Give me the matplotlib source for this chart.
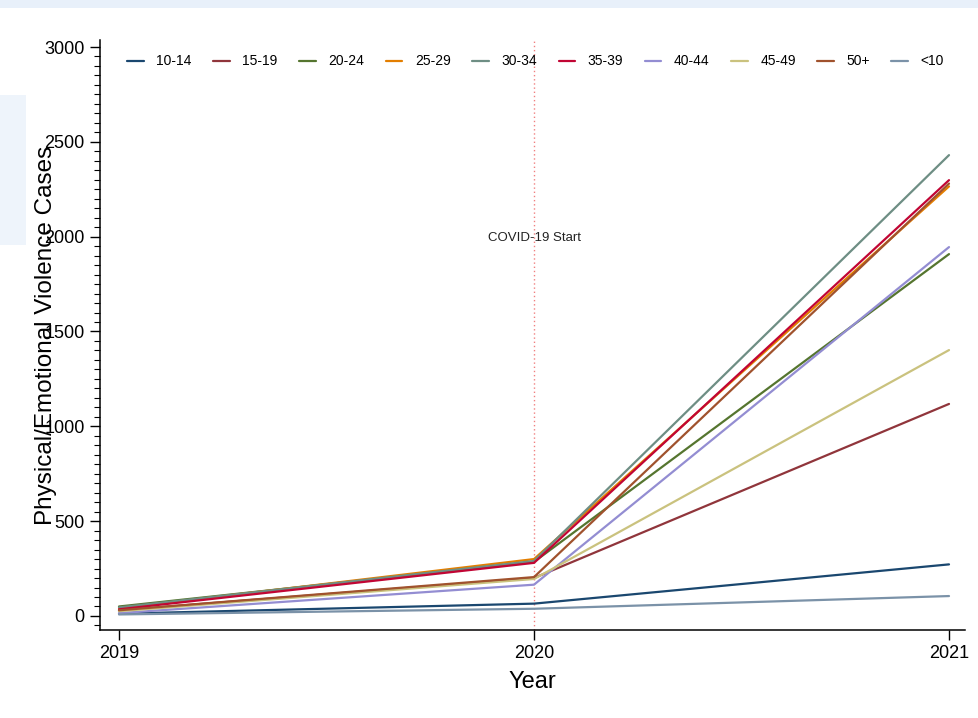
import matplotlib
matplotlib.use("Agg")
import matplotlib.pyplot as plt
from matplotlib.patches import Rectangle
from matplotlib.ticker import MultipleLocator

plt.rcParams['font.family'] = ['Liberation Sans', 'DejaVu Sans']

years = [2019, 2020, 2021]
groups = ['10-14', '15-19', '20-24', '25-29', '30-34', '35-39', '40-44', '45-49', '50+', '<10']
values = {
    '10-14': [12, 65, 272],
    '15-19': [30, 200, 1118],
    '20-24': [50, 285, 1908],
    '25-29': [40, 300, 2265],
    '30-34': [45, 290, 2430],
    '35-39': [35, 280, 2298],
    '40-44': [15, 165, 1945],
    '45-49': [25, 195, 1402],
    '50+':   [30, 205, 2280],
    '<10':   [8, 38, 105],
}
colors = ['#1a476f', '#90353b', '#55752f', '#e37e00', '#6e8e84',
          '#c10534', '#938dd2', '#cac27e', '#a0522d', '#7b92a8']

W, H = 979, 718
fig = plt.figure(figsize=(W / 100, H / 100), dpi=100)
fig.patch.set_facecolor('#e8f0fa')
fig.patches.append(Rectangle((0, 0), 1, 1 - 8 / H, transform=fig.transFigure,
                             facecolor='white', edgecolor='none', zorder=-10))
fig.patches.append(Rectangle((0, 1 - 245 / H), 26 / W, 150 / H, transform=fig.transFigure,
                             facecolor='#eef4fb', edgecolor='none', zorder=-9))

ax = fig.add_axes([100 / W, (H - 630) / H, (965 - 100) / W, (630 - 40) / H])
ax.set_facecolor('none')

for g, c in zip(groups, colors):
    ax.plot(years, values[g], color=c, lw=1.6, label=g, solid_capstyle='round', solid_joinstyle='round')

ax.axvline(2020, color='#f08080', lw=1.0, ls=(0, (1, 2)), zorder=0)
ax.text(2020, 1993, 'COVID-19 Start', ha='center', va='center', fontsize=9.5, color='#222222')

ax.set_xlim(2019 - 19 / 415, 2021 + 16 / 415)
ax.set_ylim(-74, 3037)
ax.set_xticks(years)
ax.set_xticklabels([str(y) for y in years])
ax.set_yticks([0, 500, 1000, 1500, 2000, 2500, 3000])
ax.yaxis.set_minor_locator(MultipleLocator(50))
ax.tick_params(axis='both', which='major', labelsize=13, length=7, width=1, color='black', pad=4)
ax.tick_params(axis='y', which='minor', length=4, width=0.8)
ax.spines['top'].set_visible(False)
ax.spines['right'].set_visible(False)
ax.spines['left'].set_linewidth(1.1)
ax.spines['bottom'].set_linewidth(1.1)

ax.set_xlabel('Year', fontsize=17, labelpad=6)
ax.set_ylabel('Physical/Emotional Violence Cases', fontsize=17.5)
ax.yaxis.set_label_coords(-0.050, 0.5)

ax.legend(loc='upper left', ncol=10, frameon=False, fontsize=10,
          bbox_to_anchor=(0.025, 0.985), handlelength=1.2, columnspacing=1.55,
          handletextpad=0.9, borderaxespad=0)

fig.savefig('out.png', dpi=100, facecolor=fig.get_facecolor())
